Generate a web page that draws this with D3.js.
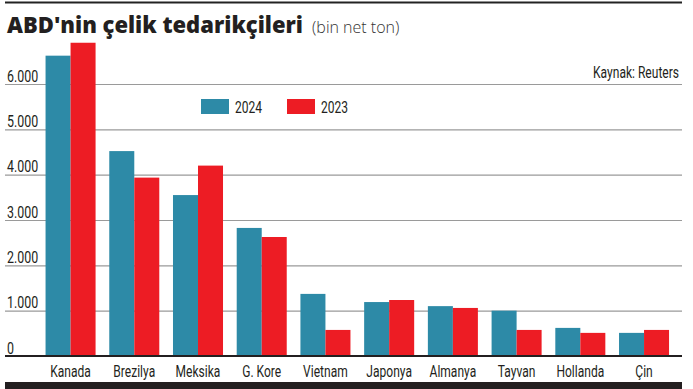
<!DOCTYPE html>
<html>
<head>
<meta charset="utf-8">
<script src="https://cdn.jsdelivr.net/npm/d3@7"></script>
<style>
  body { margin: 0; background: #fff; }
  svg { display: block; }
</style>
</head>
<body>
<div id="chart"></div>
<script>
// data (bin net ton)
var countries = ["Kanada", "Brezilya", "Meksika", "G. Kore", "Vietnam", "Japonya", "Almanya", "Tayvan", "Hollanda", "Çin"];
var years = ["2024", "2023"];
var values2024 = [6625, 4520, 3550, 2825, 1370, 1190, 1100, 1000, 620, 510];
var values2023 = [6910, 3935, 4200, 2625, 575, 1235, 1060, 575, 510, 575];
var yTicks = [0, 1000, 2000, 3000, 4000, 5000, 6000];

var w = 693, h = 389;
var blue = "#2d8aa7", red = "#ed1c24", ink = "#231f20";
var narrow = "Roboto, sans-serif";
var squeeze = 0.73; // the original uses a condensed face

var svg = d3.select("#chart")
    .append("svg")
    .attr("width", w)
    .attr("height", h);

// condensed text helper
var ctext = function(sel, x0, y0, str, size, anchor) {
    return sel.append("text")
        .attr("transform", "translate(" + x0 + "," + y0 + ") scale(" + squeeze + ",1)")
        .attr("text-anchor", anchor || "start")
        .attr("font-family", narrow)
        .attr("font-weight", 400)
        .attr("font-size", size)
        .attr("fill", ink)
        .text(str);
};

// scales
var x = d3.scaleBand()
    .domain(countries)
    .range([38.7, 675.9])
    .paddingInner(0.215)
    .paddingOuter(0.1075);

var xs = d3.scaleBand()
    .domain(years)
    .range([0, x.bandwidth()]);

var y = d3.scaleLinear()
    .domain([0, 6000])
    .range([356, 84]);

var fmt = d3.formatLocale({ decimal: ",", thousands: ".", grouping: [3], currency: ["", ""] }).format(",");

// top and bottom rules
svg.append("rect").attr("x", 5).attr("y", 1.5).attr("width", 677).attr("height", 2).attr("fill", "#222");
svg.append("rect").attr("x", 5).attr("y", 382).attr("width", 677).attr("height", 7).attr("fill", ink);

// title
svg.append("text")
    .attr("x", 7).attr("y", 33)
    .attr("font-family", "'Open Sans', sans-serif")
    .attr("font-weight", 800)
    .attr("font-size", 23)
    .attr("fill", ink)
    .attr("textLength", 296)
    .attr("lengthAdjust", "spacingAndGlyphs")
    .text("ABD'nin çelik tedarikçileri");

svg.append("text")
    .attr("x", 312).attr("y", 33)
    .attr("font-family", "'Open Sans', sans-serif")
    .attr("font-weight", 300)
    .attr("font-size", 16)
    .attr("fill", "#333")
    .text("(bin net ton)");

// gridlines
var yAxis = d3.axisLeft(y)
    .tickValues(yTicks)
    .tickSize(677)
    .tickFormat("");

var ga = svg.append("g")
    .attr("transform", "translate(682,0)")
    .call(yAxis);
ga.select(".domain").remove();
ga.selectAll(".tick line")
    .attr("stroke", function(d) { return d === 0 ? "none" : "#9a9a9a"; })
    .attr("stroke-width", 1.2);

// tick labels, sitting on top of the gridlines
ga.selectAll(".tick").each(function(d) {
    ctext(d3.select(this), -675, -3, fmt(d), 17, "start");
});

// source
ctext(svg, 679, 78, "Kaynak: Reuters", 16.5, "end");

// bars
var rows = countries.map(function(c, i) {
    return { country: c, vals: [{ year: "2024", v: values2024[i] }, { year: "2023", v: values2023[i] }] };
});

var groups = svg.selectAll(".grp")
    .data(rows)
    .enter()
    .append("g")
    .attr("transform", function(d) { return "translate(" + x(d.country) + ",0)"; });

groups.selectAll("rect")
    .data(function(d) { return d.vals; })
    .enter()
    .append("rect")
    .attr("x", function(d) { return xs(d.year); })
    .attr("width", xs.bandwidth())
    .attr("y", function(d) { return y(d.v); })
    .attr("height", function(d) { return y(0) - y(d.v); })
    .attr("fill", function(d) { return d.year === "2024" ? blue : red; });

// baseline
svg.append("line")
    .attr("x1", 5).attr("x2", 682)
    .attr("y1", y(0)).attr("y2", y(0))
    .attr("stroke", ink)
    .attr("stroke-width", 2);

// category labels
var xAxis = d3.axisBottom(x).tickSize(0).tickFormat("");
var gx = svg.append("g")
    .attr("transform", "translate(0,377)")
    .call(xAxis);
gx.select(".domain").remove();
gx.selectAll(".tick").each(function(d) {
    ctext(d3.select(this), 0, 0, d, 16.5, "middle");
});

// legend
var legX = [201, 287];
years.forEach(function(yr, i) {
    svg.append("rect")
        .attr("x", legX[i]).attr("y", 99)
        .attr("width", 28).attr("height", 15)
        .attr("fill", yr === "2024" ? blue : red);
    ctext(svg, legX[i] + 34, 113, yr, 16.5, "start");
});
</script>
</body>
</html>
